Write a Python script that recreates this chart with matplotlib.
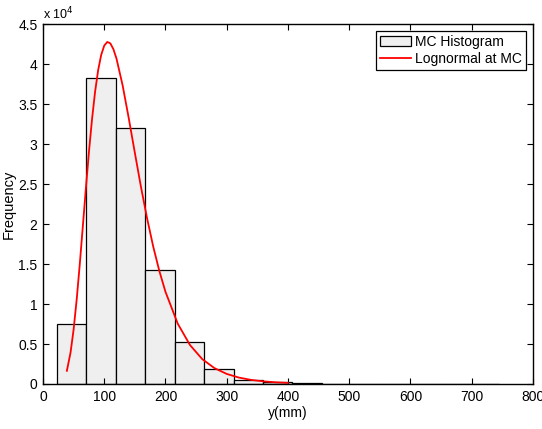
import numpy as np
import matplotlib
matplotlib.use('Agg')
import matplotlib.pyplot as plt

plt.rcParams['font.family'] = ['Liberation Sans', 'DejaVu Sans']

# histogram of MC results (bin edges in mm, counts)
bin_edges = [22.5, 70.6, 118.7, 166.8, 214.9, 263.0, 311.1, 359.2, 407.3,
             455.4, 503.5, 551.6, 599.7, 647.8, 695.9, 744.0]
counts = [7500, 38300, 32000, 14250, 5300, 1850, 560, 210, 90, 45, 25, 15, 10, 40, 20]

# lognormal curve
curve_x = [39, 45, 50, 55, 60, 65, 70, 75, 80, 85, 90, 95, 100, 105, 110, 115, 120,
           130, 140, 150, 160, 170, 180, 190, 200, 220, 240, 260, 280, 300, 320,
           340, 360, 380, 400]
curve_y = [1650, 3930, 6810, 10540, 14910, 19650, 24430, 28980, 33050, 36500, 39200,
           41130, 42300, 42760, 42580, 41850, 40680, 37340, 33240, 28890, 24630,
           20690, 17170, 14120, 11520, 7540, 4870, 3110, 1980, 1260, 800, 510, 330,
           210, 140]

fig = plt.figure(figsize=(5.42, 4.29), dpi=100)
ax = fig.add_axes([0.0793, 0.1049, 0.9041, 0.8391])

widths = np.diff(bin_edges)
bars = ax.bar(bin_edges[:-1], counts, width=widths, align='edge', color='#efefef',
              edgecolor='black', linewidth=0.9, label='MC Histogram')
line, = ax.plot(curve_x, curve_y, color='red', linewidth=1.3, label='Lognormal at MC')

ax.set_xlim(0, 800)
ax.set_ylim(0, 45000)
ax.set_xticks(np.arange(0, 801, 100))
ax.set_yticks(np.arange(0, 45001, 5000))
ax.set_yticklabels(['0', '0.5', '1', '1.5', '2', '2.5', '3', '3.5', '4', '4.5'])
ax.tick_params(direction='in', top=True, right=True, labelsize=10, length=4, pad=4)
for s in ax.spines.values():
    s.set_linewidth(1.0)

ax.text(0, 1.005, r'x 10$^4$', transform=ax.transAxes, fontsize=9, va='bottom', ha='left')
ax.set_xlabel('y(mm)', fontsize=10, labelpad=2)
ax.set_ylabel('Frequency', fontsize=10.5, labelpad=2)

leg = ax.legend([bars, line], ['MC Histogram', 'Lognormal at MC'], loc='upper right',
                fontsize=10, fancybox=False, framealpha=1,
                edgecolor='black', borderaxespad=0.5, handlelength=2.2,
                borderpad=0.3, labelspacing=0.2, handletextpad=0.3)
leg.get_frame().set_linewidth(0.9)

fig.savefig('out.png', dpi=100)
